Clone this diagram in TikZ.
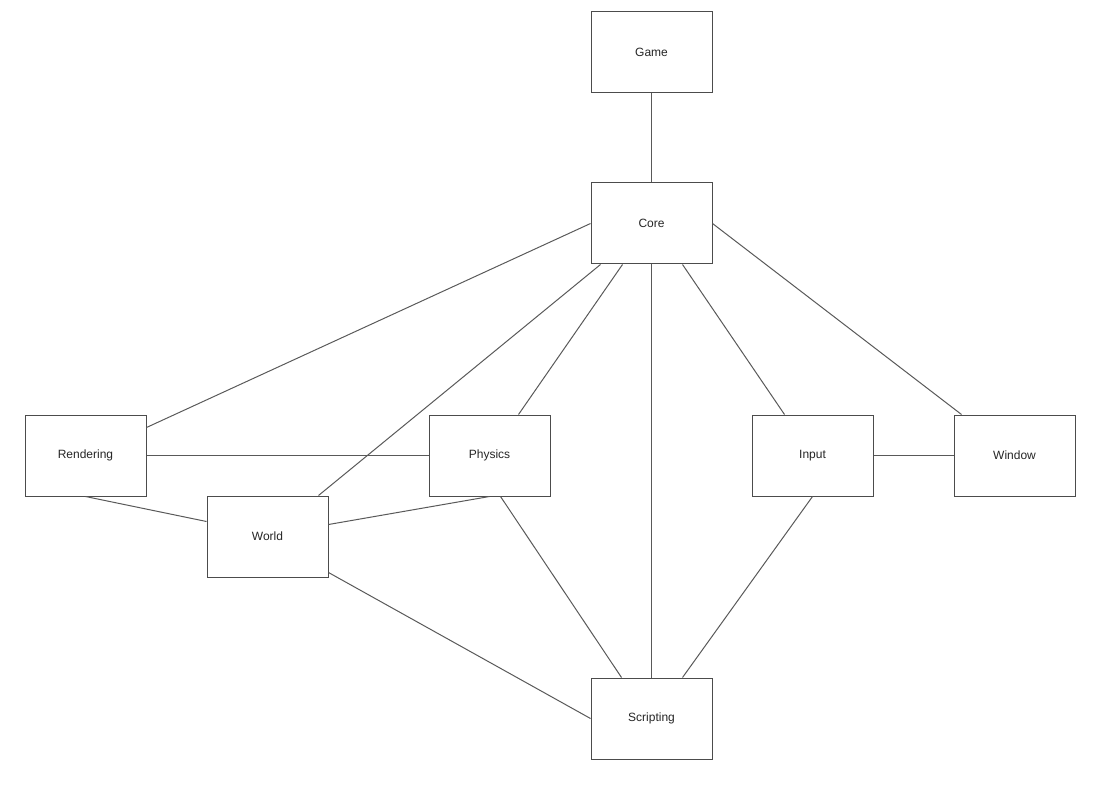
\documentclass[tikz,border=0pt]{standalone}
\usepackage{fontspec}
\setmainfont{Liberation Sans}
\begin{document}
\begin{tikzpicture}[x=1pt,y=-1pt,
  box/.style={draw=black!70, line width=1pt, fill=white, minimum width=121pt, minimum height=81pt, inner sep=0pt, text=black!85, font=\fontsize{12}{14}\selectfont},
  link/.style={draw=black!65, line width=1pt}]
\useasboundingbox (0,0) rectangle (1107,791);
\node[box] (game) at (651.5,52) {Game};
\node[box] (core) at (651.5,223.5) {Core};
\node[box] (rendering) at (85.5,455.5) {Rendering};
\node[box] (physics) at (489.5,455.5) {Physics};
\node[box] (input) at (812.5,455.5) {Input};
\node[box] (window) at (1014.5,455.5) {Window};
\node[box] (world) at (267.5,536.5) {World};
\node[box] (scripting) at (651.5,718.5) {Scripting};
\begin{scope}[on background layer/.style={}]
\draw[link] (game.south) -- (core.north);
\draw[link] (core.west) -- ([yshift=-13pt]rendering.north east);
\draw[link] ([xshift=10pt]core.south west) -- ([xshift=-10pt]world.north east);
\draw[link] ([xshift=32pt]core.south west) -- ([xshift=-32pt]physics.north east);
\draw[link] (core.south) -- (scripting.north);
\draw[link] ([xshift=-30pt]core.south east) -- ([xshift=33pt]input.north west);
\draw[link] (core.east) -- ([xshift=8pt]window.north west);
\draw[link] (rendering.east) -- (physics.west);
\draw[link] (rendering.south) -- ([yshift=-26pt]world.north west);
\draw[link] ([yshift=-29pt]world.north east) -- (physics.south);
\draw[link] ([yshift=5pt]world.south east) -- (scripting.west);
\draw[link] ([xshift=-50pt]physics.south east) -- ([xshift=31pt]scripting.north west);
\draw[link] (input.south) -- ([xshift=-30pt]scripting.north east);
\draw[link] (input.east) -- (window.west);
\end{scope}
\end{tikzpicture}
\end{document}
